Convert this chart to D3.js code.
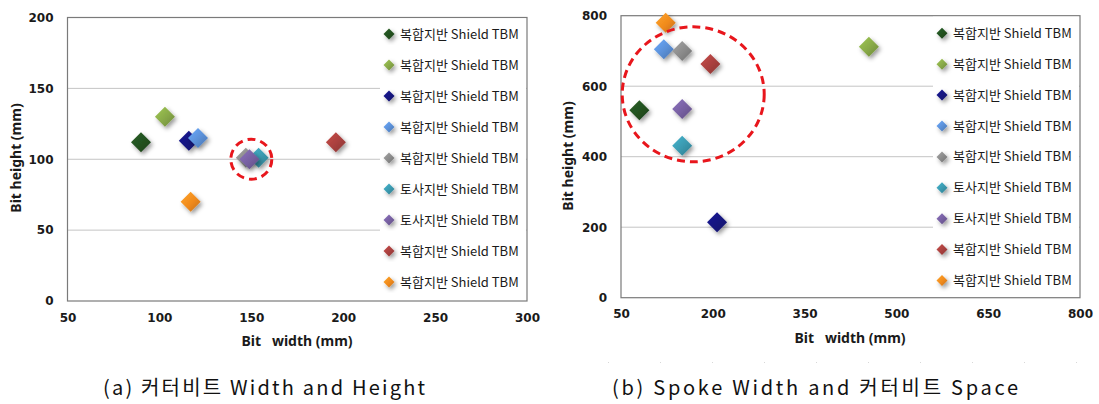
<!DOCTYPE html>
<html>
<head>
<meta charset="utf-8">
<script src="https://cdn.jsdelivr.net/npm/d3@7"></script>
<style>
  body { margin: 0; background: #fff; }
  .tick text { font-family: "DejaVu Sans", sans-serif; font-weight: bold; font-size: 12px; fill: #1a1a1a; }
  .title { font-family: "Noto Sans", "Noto Sans CJK KR", sans-serif; font-weight: bold; font-size: 14px; fill: #1a1a1a; }
  .leg { font-family: "Noto Sans CJK KR", sans-serif; font-size: 13px; fill: #1a1a1a; }
  .cap { font-family: "Noto Sans CJK KR", sans-serif; font-size: 20px; fill: #111; }
</style>
</head>
<body>
<svg id="chart"></svg>
<script>
// series names (same for both panels)
var seriesNames = ["복합지반 Shield TBM", "복합지반 Shield TBM", "복합지반 Shield TBM", "복합지반 Shield TBM",
  "복합지반 Shield TBM", "토사지반 Shield TBM", "토사지반 Shield TBM", "복합지반 Shield TBM", "복합지반 Shield TBM"];
var seriesColors = ["#22501f", "#87a847", "#14147e", "#5a8fd6", "#8a8a8a", "#3a98ae", "#765fa0", "#a8403e", "#f08a1e"];

// (a) bit width / height
var aWidth  = [90, 103, 116, 121, 147, 154, 149, 196, 117];
var aHeight = [112, 130, 113, 115, 101, 101, 100, 112, 70];
var aXTicks = [50, 100, 150, 200, 250, 300];
var aYTicks = [0, 50, 100, 150, 200];

// (b) spoke width / space
var bWidth  = [80, 455, 207, 120, 150, 150, 150, 196, 123];
var bHeight = [532, 712, 214, 705, 700, 431, 535, 663, 780];
var bXTicks = [50, 200, 350, 500, 650, 800];
var bYTicks = [0, 200, 400, 600, 800];

var w = 1099, h = 404;
var svg = d3.select("#chart").attr("width", w).attr("height", h);

var defs = svg.append("defs");
var f = defs.append("filter").attr("id", "shadow")
  .attr("x", "-50%").attr("y", "-50%").attr("width", "200%").attr("height", "200%");
f.append("feDropShadow").attr("dx", 2).attr("dy", 2.5).attr("stdDeviation", 2)
  .attr("flood-color", "#000").attr("flood-opacity", 0.4);

seriesColors.forEach(function(c, i) {
  var g = defs.append("linearGradient").attr("id", "grad" + i)
    .attr("x1", "0").attr("y1", "0").attr("x2", "1").attr("y2", "1");
  g.append("stop").attr("offset", "0%").attr("stop-color", d3.color(c).brighter(0.5));
  g.append("stop").attr("offset", "55%").attr("stop-color", c);
  g.append("stop").attr("offset", "100%").attr("stop-color", d3.color(c).darker(0.6));
});

function diamond(r) {
  return "M0," + (-r) + "L" + r + ",0L0," + r + "L" + (-r) + ",0Z";
}

function panel(opt) {
  var x = d3.scaleLinear().domain([opt.xTicks[0], opt.xTicks[opt.xTicks.length - 1]]).range([opt.left, opt.right]);
  var y = d3.scaleLinear().domain([opt.yTicks[0], opt.yTicks[opt.yTicks.length - 1]]).range([opt.bottom, opt.top]);
  var g = svg.append("g");

  // gridlines
  g.selectAll("line.grid")
    .data(opt.yTicks.slice(1, -1))
    .enter().append("line")
    .attr("x1", opt.left).attr("x2", opt.right)
    .attr("y1", function(d) { return y(d); }).attr("y2", function(d) { return y(d); })
    .attr("stroke", "#c4c4c4").attr("stroke-width", 1);

  // plot frame
  g.append("rect")
    .attr("x", opt.left).attr("y", opt.top)
    .attr("width", opt.right - opt.left).attr("height", opt.bottom - opt.top)
    .attr("fill", "none").attr("stroke", "#7a7a7a").attr("stroke-width", 1.2);

  // legend panel (white, covers gridlines)
  g.append("rect")
    .attr("x", opt.legX).attr("y", opt.top + 1)
    .attr("width", opt.right - opt.legX - 1).attr("height", opt.bottom - opt.top - 2)
    .attr("fill", "#fff");

  var xAxis = d3.axisBottom(x).tickValues(opt.xTicks).tickSize(0).tickPadding(12);
  var yAxis = d3.axisLeft(y).tickValues(opt.yTicks).tickSize(0).tickPadding(14);
  g.append("g").attr("transform", "translate(0," + opt.bottom + ")").call(xAxis)
    .call(function(s) { s.select(".domain").remove(); });
  g.append("g").attr("transform", "translate(" + opt.left + ",0)").call(yAxis)
    .call(function(s) { s.select(".domain").remove(); });

  // axis titles
  g.append("text").attr("class", "title")
    .attr("x", opt.xTitleX).attr("y", opt.bottom + 45)
    .attr("text-anchor", "middle").attr("xml:space", "preserve")
    .text("Bit   width (mm)");
  g.append("text").attr("class", "title")
    .attr("transform", "translate(" + opt.yTitleX + "," + opt.yTitleY + ") rotate(-90)")
    .attr("text-anchor", "middle")
    .text("Bit height (mm)");

  // points
  var pts = opt.xs.map(function(v, i) { return { x: v, y: opt.ys[i], i: i }; });
  g.selectAll("path.pt")
    .data(pts)
    .enter().append("path")
    .attr("d", diamond(10))
    .attr("transform", function(d) { return "translate(" + x(d.x) + "," + y(d.y) + ")"; })
    .attr("fill", function(d) { return "url(#grad" + d.i + ")"; })
    .attr("filter", "url(#shadow)");

  // dashed highlight
  g.append("ellipse")
    .attr("cx", x(opt.ring[0])).attr("cy", y(opt.ring[1]))
    .attr("rx", opt.ring[2]).attr("ry", opt.ring[3])
    .attr("fill", "none").attr("stroke", "#e8161c").attr("stroke-width", 3)
    .attr("stroke-dasharray", "8,5");

  // legend
  var leg = g.selectAll("g.leg")
    .data(seriesNames)
    .enter().append("g")
    .attr("transform", function(d, i) { return "translate(" + opt.legMarkX + "," + (opt.legY0 + i * opt.legStep) + ")"; });
  leg.append("path")
    .attr("d", diamond(5.5))
    .attr("fill", function(d, i) { return "url(#grad" + i + ")"; })
    .attr("filter", "url(#shadow)");
  leg.append("text").attr("class", "leg")
    .attr("x", 11).attr("y", 4.5)
    .text(function(d) { return d; });
}

panel({
  xs: aWidth, ys: aHeight, xTicks: aXTicks, yTicks: aYTicks,
  left: 67.5, right: 527, top: 17.5, bottom: 301,
  legX: 380, legMarkX: 389, legY0: 34, legStep: 31,
  xTitleX: 297, yTitleX: 21, yTitleY: 158,
  ring: [150, 100, 20.5, 20]
});

panel({
  xs: bWidth, ys: bHeight, xTicks: bXTicks, yTicks: bYTicks,
  left: 621, right: 1080, top: 15.7, bottom: 297.7,
  legX: 933, legMarkX: 942, legY0: 33.3, legStep: 30.9,
  xTitleX: 850, yTitleX: 573, yTitleY: 156,
  ring: [168, 577, 71, 67.5]
});

// faint dotted line under right panel
svg.append("line")
  .attr("x1", 608).attr("x2", 1080).attr("y1", 362.5).attr("y2", 362.5)
  .attr("stroke", "#d8d8d8").attr("stroke-width", 1).attr("stroke-dasharray", "1,51");

// captions
svg.append("text").attr("class", "cap")
  .attr("x", 103).attr("y", 395)
  .attr("textLength", 322).attr("lengthAdjust", "spacing")
  .text("(a) 커터비트 Width and Height");
svg.append("text").attr("class", "cap")
  .attr("x", 612).attr("y", 395)
  .attr("textLength", 406).attr("lengthAdjust", "spacing")
  .text("(b) Spoke Width and 커터비트 Space");
</script>
</body>
</html>
